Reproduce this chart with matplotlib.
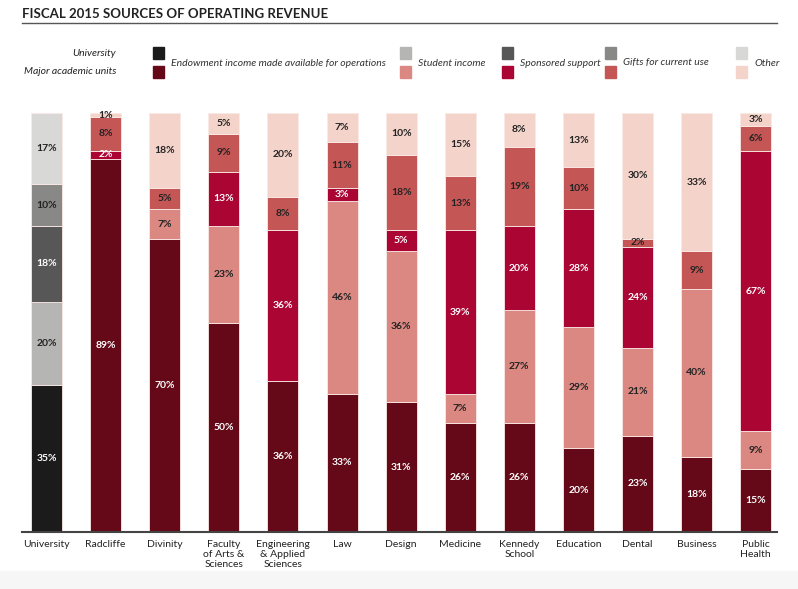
import matplotlib.pyplot as plt
import numpy as np

plt.rcParams['font.family'] = ['Lato', 'DejaVu Sans']

# units, left to right
units = ['University', 'Radcliffe', 'Divinity', 'Faculty\nof Arts &\nSciences',
         'Engineering\n& Applied\nSciences', 'Law', 'Design', 'Medicine',
         'Kennedy\nSchool', 'Education', 'Dental', 'Business', 'Public\nHealth']

# percent of operating revenue, per source
endowment = [35, 89, 70, 50, 36, 33, 31, 26, 26, 20, 23, 18, 15]
student = [20, 0, 7, 23, 0, 46, 36, 7, 27, 29, 21, 40, 9]
sponsored = [18, 2, 0, 13, 36, 3, 5, 39, 20, 28, 24, 0, 67]
gifts = [10, 8, 5, 9, 8, 11, 18, 13, 19, 10, 2, 9, 6]
other = [17, 1, 18, 5, 20, 7, 10, 15, 8, 13, 30, 33, 3]

sources = ['Endowment income made available for operations', 'Student income',
           'Sponsored support', 'Gifts for current use', 'Other']
univ_colors = ['#1b1b1b', '#b5b6b4', '#575757', '#888887', '#d8d9d7']
unit_colors = ['#650817', '#db8882', '#ab0534', '#c55656', '#f4d3ca']
white_text = [True, False, True, False, False]

W, H = 798, 589
fig = plt.figure(figsize=(W / 100, H / 100), dpi=100)

# faint grey band at the very bottom
fig.add_artist(plt.Rectangle((0, 0), 1, 18 / H, color='#f6f6f6',
                             transform=fig.transFigure, zorder=0))

# title and rule
fig.text(22 / W, 1 - 14 / H, 'FISCAL 2015 SOURCES OF OPERATING REVENUE',
         fontsize=9.5, fontweight='bold', color='#222222', va='center')
fig.add_artist(plt.Line2D([22 / W, 777 / W], [1 - 23 / H, 1 - 23 / H],
                          color='#555555', lw=1))

# legend
fig.text(116 / W, 1 - 53 / H, 'University', fontsize=7.5, style='italic',
         ha='right', va='center', color='#222222')
fig.text(116 / W, 1 - 72 / H, 'Major academic units', fontsize=7.5, style='italic',
         ha='right', va='center', color='#222222')
leg_x = [153, 400, 502, 605, 736]
for k in range(5):
    for yy, col in [(47, univ_colors[k]), (66, unit_colors[k])]:
        fig.add_artist(plt.Rectangle((leg_x[k] / W, 1 - (yy + 12) / H), 11 / W, 12 / H,
                                     color=col, transform=fig.transFigure))
    fig.text((leg_x[k] + 18) / W, 1 - 63 / H, sources[k], fontsize=7.5,
             style='italic', va='center', color='#333333')

# chart area
ax = fig.add_axes([22 / W, (H - 532) / H, 755 / W, (532 - 113) / H])
x = np.arange(len(units))
series = [endowment, student, sponsored, gifts, other]
bottom = np.zeros(len(units))
for k, vals in enumerate(series):
    vals = np.array(vals, dtype=float)
    cols = [univ_colors[k]] + [unit_colors[k]] * (len(units) - 1)
    ax.bar(x, vals, 0.525, bottom=bottom, color=cols, edgecolor='#fbe9e6', linewidth=0.6)
    for i, v in enumerate(vals):
        if v <= 0:
            continue
        tc = 'white' if white_text[k] else '#222222'
        ax.text(x[i], bottom[i] + v / 2, f'{int(v)}%', ha='center', va='center',
                fontsize=7.5, fontweight='bold', color=tc)
    bottom += vals

ax.set_xlim(-0.415, 12.36)
ax.set_ylim(0, 100)
for s in ['top', 'right', 'left']:
    ax.spines[s].set_visible(False)
ax.spines['bottom'].set_color('#444444')
ax.spines['bottom'].set_linewidth(1.5)
ax.set_yticks([])
ax.set_xticks(x)
ax.set_xticklabels(units, fontsize=7.5, color='#222222', linespacing=1.1, va='top')
ax.tick_params(axis='x', length=0, pad=6)

fig.savefig('out.png', dpi=100)
